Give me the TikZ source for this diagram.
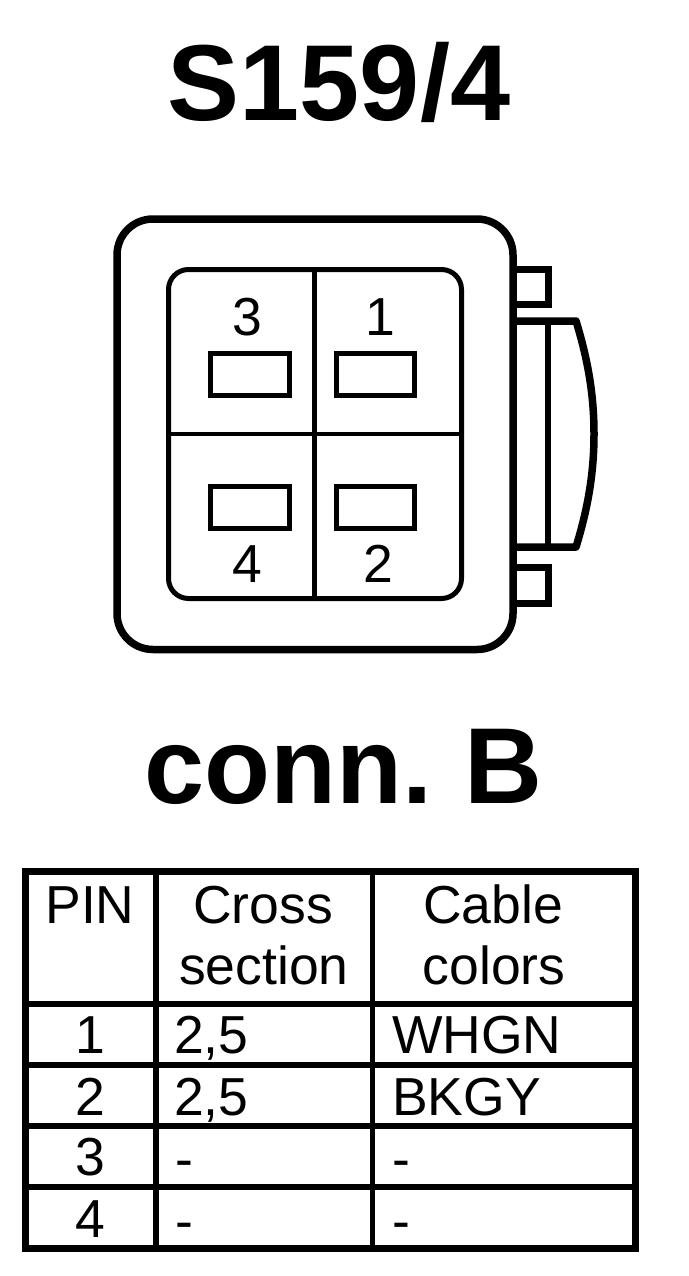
\documentclass[tikz,border=0pt]{standalone}
\usepackage{fontspec}
\setmainfont{Liberation Sans}
\tikzset{x=1pt,y=-1pt,
    heading/.style={
        anchor=base,
        inner sep=0pt,
        font=\fontsize{108}{108}\selectfont\bfseries},
    label/.style={
        anchor=base,
        inner sep=0pt,
        font=\fontsize{53.5}{53.5}\selectfont},
    cell/.style={
        label,
        anchor=base west},
    housing/.style={
        line width=7.5pt},
    inner wall/.style={
        line width=5pt},
    grid wall/.style={
        line width=5.5pt}}

\begin{document}
\begin{tikzpicture}
        \useasboundingbox (0,0) rectangle (688,1276);
        \node[heading] (title) at (339,121) {S159/4};
        \node[heading] (conn) at (343.5,803) {conn.\hspace{-8pt} B};
        %housing
        \draw[housing,rounded corners=36] (117,219) rectangle (513,649.5);
        \draw[housing] (513,269.5) -- (548.5,269.5) -- (548.5,304.5) -- (513,304.5);
        \draw[housing] (513,567.5) -- (548.5,567.5) -- (548.5,603.5) -- (513,603.5);
        \draw[housing,line join=round] (513,321) -- (576,321) .. controls (588,360) and (594,395) .. (594,434)
            .. controls (594,473) and (588,508) .. (576,547) -- (513,547);
        \draw[inner wall,line width=6pt] (548,321) -- (548,547);
        %pin field
        \draw[inner wall,rounded corners=20] (168.5,269.5) rectangle (461.5,598.5);
        \draw[inner wall,line width=4.5pt] (314.5,269.5) -- (314.5,598.5);
        \draw[inner wall,line width=4.5pt] (168.5,434) -- (461.5,434);
        \draw[inner wall] (210.5,353.5) rectangle (289.5,395.5);
        \draw[inner wall] (336.5,353.5) rectangle (414.5,395.5);
        \draw[inner wall] (210.5,486.5) rectangle (289.5,528.5);
        \draw[inner wall] (336.5,486.5) rectangle (414.5,528.5);
        \node[label] (p3) at (247,335) {3};
        \node[label] (p1) at (380,335) {1};
        \node[label] (p4) at (247,582) {4};
        \node[label] (p2) at (378,582) {2};
        %table
        \draw[line width=7pt] (25.5,871) rectangle (635.5,1248);
        \draw[grid wall] (156,871) -- (156,1248);
        \draw[grid wall] (372.5,871) -- (372.5,1248);
        \draw[grid wall] (25.5,1004) -- (635.5,1004);
        \draw[grid wall] (25.5,1065) -- (635.5,1065);
        \draw[grid wall] (25.5,1126) -- (635.5,1126);
        \draw[grid wall] (25.5,1187) -- (635.5,1187);
        \node[label] (pin) at (90,923) {PIN};
        \node[label] (cross) at (263,923) {Cross};
        \node[label] (section) at (264,984) {section};
        \node[label] (cable) at (493,923) {Cable};
        \node[label] (colors) at (494,984) {colors};
        \node[label] (r1) at (90,1053) {1};
        \node[label] (r2) at (90,1115) {2};
        \node[label] (r3) at (90,1175) {3};
        \node[label] (r4) at (90,1237) {4};
        \node[cell] (s1) at (174,1053) {2,5};
        \node[cell] (s2) at (174,1115) {2,5};
        \node[cell] (s3) at (175,1177) {-};
        \node[cell] (s4) at (175,1239) {-};
        \node[cell] (c1) at (392,1053) {WHGN};
        \node[cell] (c2) at (392,1115) {BKGY};
        \node[cell] (c3) at (392,1177) {-};
        \node[cell] (c4) at (392,1239) {-};
    \end{tikzpicture}
\end{document}
